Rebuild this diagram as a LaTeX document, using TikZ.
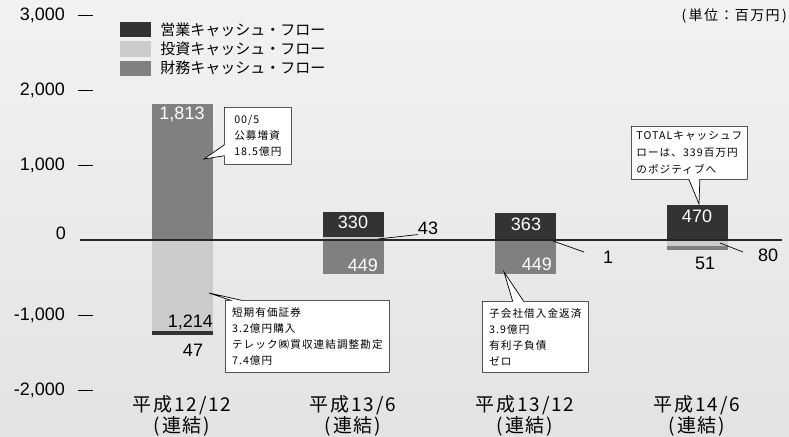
\documentclass[tikz,border=0pt]{standalone}
\usepackage{fontspec}
\setmainfont{Liberation Sans}
\newfontfamily\jpfont{Noto Sans CJK JP}
\newfontfamily\jpwide[LetterSpace=10]{Noto Sans CJK JP}
\usetikzlibrary{positioning,shapes.callouts}

\definecolor{opgray}{HTML}{333333}
\definecolor{invgray}{HTML}{CCCCCC}
\definecolor{fingray}{HTML}{808080}
\definecolor{bgtop}{HTML}{F1F2F4}
\definecolor{bgbottom}{HTML}{E3E3E5}

\tikzset{
  opbar/.style={fill=opgray},
  invbar/.style={fill=invgray},
  finbar/.style={fill=fingray},
  legbox/.style={minimum width=31pt, minimum height=15.5pt, inner sep=0pt},
  legtext/.style={font=\jpfont\fontsize{15}{15}\selectfont, inner sep=0pt, anchor=west},
  axlabel/.style={font=\fontsize{18}{18}\selectfont, inner sep=0pt, anchor=east},
  axtick/.style={line width=0.9pt},
  zeroline/.style={line width=1.1pt, black!85},
  barval/.style={font=\fontsize{18}{18}\selectfont, inner sep=0pt},
  inval/.style={barval, text=white},
  leader/.style={line width=0.7pt},
  note/.style={rectangle callout, draw, fill=white, line width=0.7pt, align=left,
    font=\jpwide\fontsize{10.6}{16}\selectfont, inner sep=0pt, anchor=north west,
    callout pointer width=11pt},
  period/.style={font=\jpwide\fontsize{19}{21}\selectfont, align=center, inner sep=0pt}
}

\begin{document}
\begin{tikzpicture}[x=1pt, y=-1pt]
  \shade[top color=bgtop, bottom color=bgbottom] (0,0) rectangle (789,436);
  \useasboundingbox (0,0) rectangle (789,436);

  % bars in data units
  \begin{scope}[shift={(0,240)}, y=0.075pt]
    \fill[finbar] (152,0) rectangle (213,1813);
    \fill[invbar] (152,0) rectangle (213,-1214);
    \fill[opbar] (152,-1214) rectangle (213,-1261);

    \fill[invbar] (323,0) rectangle (384,43);
    \fill[opbar] (323,43) rectangle (384,373);
    \fill[finbar] (323,0) rectangle (384,-449);

    \fill[opbar] (495,0) rectangle (556,363);
    \fill[invbar] (495,0) rectangle (556,-13);
    \fill[finbar] (495,-13) rectangle (556,-450);

    \fill[opbar] (667,0) rectangle (728,470);
    \fill[invbar] (667,0) rectangle (728,-80);
    \fill[finbar] (667,-80) rectangle (728,-131);
  \end{scope}

  \coordinate (zl) at (80,240);
  \coordinate (zr) at (782,240);
  \draw[zeroline] (zl) -- (zr);

  \foreach \yy/\lab [count=\i] in {15/{3,000},90/{2,000},165/{1,000},315/{-1,000},390/{-2,000}} {
    \node[axlabel] (ax\i) at (65,\yy) {\lab};
    \draw[axtick] (78,\yy) -- (93,\yy);
  }
  \node[axlabel] (ax0) at (66,233) {0};

  \node[inval] (v1813) at (182,114) {1,813};
  \node[barval, anchor=east] (v1214) at (213,322) {1,214};
  \node[barval] (v47) at (193,350) {47};
  \node[inval] (v330) at (353,222) {330};
  \node[inval, anchor=east] (v449a) at (378,265) {449};
  \node[barval] (v43) at (428,228) {43};
  \node[inval] (v363) at (526,224) {363};
  \node[inval, anchor=east] (v449b) at (552,264) {449};
  \node[barval] (v1) at (608,257) {1};
  \node[inval] (v470) at (697,216) {470};
  \node[barval] (v51) at (705,263) {51};
  \node[barval] (v80) at (768,255) {80};

  \coordinate (p43) at (378,239);
  \draw[leader] (p43) -- (v43.south west);
  \coordinate (p1a) at (553,241);
  \coordinate (p1b) at (584,252);
  \draw[leader] (p1a) -- (p1b);
  \coordinate (p80a) at (720,243);
  \coordinate (p80b) at (743,252);
  \draw[leader] (p80a) -- (p80b);

  % callouts
  \coordinate (t1) at (204,159);
  \node[note, minimum width=67pt, minimum height=57pt, callout absolute pointer={(t1)}]
    (n1) at (224,107) {00/5\\公募増資\\18.5億円};
  \coordinate (t2) at (209,293);
  \node[note, minimum width=164pt, minimum height=72pt, callout absolute pointer={(t2)}]
    (n2) at (225,300) {短期有価証券\\3.2億円購入\\テレック㈱買収連結調整勘定\\7.4億円};
  \coordinate (t3) at (504,272);
  \node[note, minimum width=106pt, minimum height=71pt, callout absolute pointer={(t3)}]
    (n3) at (482,301) {子会社借入金返済\\3.9億円\\有利子負債\\ゼロ};
  \coordinate (t4) at (699,204);
  \node[note, minimum width=116pt, minimum height=53pt, callout absolute pointer={(t4)},
    font=\jpwide\fontsize{10.6}{17}\selectfont]
    (n4) at (631,126) {TOTALキャッシュフ\\ローは、339百万円\\のポジティブへ};

  % legend
  \node[legbox, fill=opgray] (kop) at (135.5,29.5) {};
  \node[legbox, fill=invgray, below=3.5pt of kop] (kinv) {};
  \node[legbox, fill=fingray, below=3.5pt of kinv] (kfin) {};
  \node[legtext, right=9pt of kop] (lop) {営業キャッシュ・フロー};
  \node[legtext, right=9pt of kinv] (linv) {投資キャッシュ・フロー};
  \node[legtext, right=9pt of kfin] (lfin) {財務キャッシュ・フロー};

  \node[font=\jpwide\fontsize{14}{14}\selectfont, anchor=east, inner sep=0pt]
    (unit) at (787,16) {(\,単位：百万円\,)};

  \node[period] (c1) at (182,416) {平成12/12\\(連結)};
  \node[period] (c2) at (353,416) {平成13/6\\(連結)};
  \node[period] (c3) at (525,416) {平成13/12\\(連結)};
  \node[period] (c4) at (697,416) {平成14/6\\(連結)};
\end{tikzpicture}
\end{document}
